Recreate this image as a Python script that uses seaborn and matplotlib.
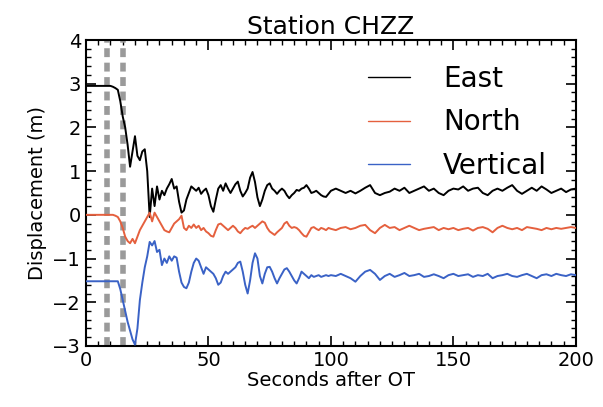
import numpy as np
import pandas as pd
import matplotlib
matplotlib.use("Agg")
import matplotlib.pyplot as plt
import seaborn as sns
from matplotlib.ticker import MultipleLocator

# time base: 1 s samples up to 99 s, then 2 s samples to 200 s
seconds = np.concatenate([np.arange(0, 100), np.arange(100, 201, 2)])

east = [
    2.95, 2.95, 2.95, 2.95, 2.95, 2.95, 2.95, 2.95, 2.95, 2.95,
    2.95, 2.93, 2.90, 2.86, 2.60, 2.25, 2.00, 1.60, 1.10, 1.45,
    1.80, 1.35, 1.25, 1.45, 1.50, 1.00, -0.05, 0.60, 0.20, 0.65,
    0.35, 0.55, 0.45, 0.60, 0.70, 0.82, 0.60, 0.65, 0.30, 0.05,
    0.10, 0.35, 0.50, 0.65, 0.60, 0.55, 0.62, 0.48, 0.55, 0.60,
    0.45, 0.20, 0.07, 0.35, 0.60, 0.68, 0.55, 0.72, 0.60, 0.50,
    0.60, 0.70, 0.76, 0.55, 0.42, 0.50, 0.60, 0.85, 0.98, 0.75,
    0.40, 0.20, 0.35, 0.55, 0.68, 0.72, 0.60, 0.55, 0.48, 0.55,
    0.60, 0.55, 0.45, 0.38, 0.45, 0.50, 0.57, 0.55, 0.60, 0.62,
    0.68, 0.60, 0.50, 0.52, 0.55, 0.50, 0.45, 0.42, 0.41, 0.48,
    0.55, 0.60, 0.55, 0.50, 0.55, 0.49, 0.55, 0.62, 0.68, 0.50,
    0.45, 0.50, 0.53, 0.60, 0.55, 0.62, 0.50, 0.55, 0.60, 0.65,
    0.55, 0.60, 0.50, 0.45, 0.55, 0.60, 0.58, 0.65, 0.55, 0.60,
    0.62, 0.50, 0.45, 0.55, 0.60, 0.55, 0.62, 0.68, 0.55, 0.48,
    0.55, 0.62, 0.55, 0.65, 0.58, 0.50, 0.55, 0.60, 0.52, 0.58,
    0.60,
]

north = [
    0.00, 0.00, 0.00, 0.00, 0.00, 0.00, 0.00, 0.00, 0.00, 0.00,
    0.00, 0.00, -0.02, -0.05, -0.15, -0.30, -0.50, -0.60, -0.65, -0.55,
    -0.65, -0.50, -0.35, -0.25, -0.15, -0.05, 0.05, -0.15, 0.05, -0.05,
    -0.15, -0.25, -0.35, -0.38, -0.40, -0.30, -0.20, -0.15, -0.10, -0.02,
    -0.30, -0.35, -0.25, -0.30, -0.22, -0.30, -0.25, -0.35, -0.30, -0.38,
    -0.42, -0.48, -0.50, -0.35, -0.22, -0.20, -0.25, -0.30, -0.35, -0.30,
    -0.25, -0.30, -0.38, -0.42, -0.35, -0.30, -0.32, -0.28, -0.25, -0.30,
    -0.25, -0.20, -0.15, -0.18, -0.30, -0.38, -0.42, -0.46, -0.40, -0.35,
    -0.30, -0.20, -0.16, -0.25, -0.30, -0.28, -0.30, -0.35, -0.42, -0.48,
    -0.50, -0.40, -0.30, -0.28, -0.32, -0.35, -0.30, -0.32, -0.35, -0.30,
    -0.32, -0.35, -0.30, -0.28, -0.33, -0.30, -0.25, -0.23, -0.35, -0.42,
    -0.30, -0.23, -0.30, -0.28, -0.35, -0.30, -0.25, -0.30, -0.35, -0.32,
    -0.30, -0.28, -0.35, -0.30, -0.33, -0.30, -0.35, -0.32, -0.30, -0.36,
    -0.30, -0.28, -0.32, -0.40, -0.30, -0.25, -0.30, -0.33, -0.30, -0.35,
    -0.28, -0.30, -0.32, -0.35, -0.30, -0.33, -0.30, -0.32, -0.30, -0.28,
    -0.30,
]

vertical = [
    -1.52, -1.52, -1.52, -1.52, -1.52, -1.52, -1.52, -1.52, -1.52, -1.52,
    -1.52, -1.52, -1.52, -1.52, -1.70, -1.95, -2.20, -2.45, -2.65, -2.85,
    -2.97, -2.60, -1.95, -1.55, -1.20, -0.95, -0.62, -0.70, -0.60, -0.85,
    -0.80, -1.15, -1.00, -1.10, -0.95, -1.05, -0.95, -0.98, -1.30, -1.55,
    -1.65, -1.68, -1.55, -1.30, -1.10, -1.00, -1.05, -1.20, -1.35, -1.20,
    -1.25, -1.30, -1.35, -1.45, -1.60, -1.55, -1.40, -1.30, -1.35, -1.30,
    -1.25, -1.20, -1.10, -1.07, -1.30, -1.60, -1.80, -1.50, -1.10, -0.88,
    -1.00, -1.40, -1.57, -1.35, -1.20, -1.19, -1.30, -1.45, -1.57, -1.45,
    -1.35, -1.25, -1.22, -1.30, -1.40, -1.50, -1.57, -1.45, -1.30, -1.35,
    -1.40, -1.45, -1.38, -1.42, -1.40, -1.38, -1.42, -1.40, -1.38, -1.40,
    -1.38, -1.40, -1.35, -1.40, -1.45, -1.53, -1.40, -1.30, -1.26, -1.35,
    -1.49, -1.40, -1.35, -1.42, -1.38, -1.33, -1.40, -1.38, -1.35, -1.42,
    -1.40, -1.36, -1.40, -1.45, -1.38, -1.35, -1.40, -1.38, -1.36, -1.42,
    -1.38, -1.40, -1.35, -1.45, -1.40, -1.38, -1.35, -1.40, -1.42, -1.38,
    -1.35, -1.40, -1.45, -1.38, -1.36, -1.40, -1.35, -1.38, -1.40, -1.36,
    -1.38,
]

components = ["East", "North", "Vertical"]
colors = {"East": "black", "North": "#e5603e", "Vertical": "#3a62c6"}
marker_times = [8.5, 15.0]

df = pd.DataFrame({
    "time": np.tile(seconds, 3),
    "disp": np.concatenate([east, north, vertical]),
    "comp": np.repeat(components, len(seconds)),
})

sns.set_style("ticks")
plt.rcParams["font.family"] = ["DejaVu Sans"]
plt.rcParams["xtick.direction"] = "in"
plt.rcParams["ytick.direction"] = "in"
for key in ["text.color", "axes.labelcolor", "axes.edgecolor",
            "xtick.color", "ytick.color"]:
    plt.rcParams[key] = "black"

fig = plt.figure(figsize=(6.03, 4.07), dpi=100)
ax = fig.add_axes([0.1426, 0.150, 0.8124, 0.7517])

for t in marker_times:
    ax.axvline(t, color="#9a9a9a", lw=4, ls=(0, (1.6, 1.0)), zorder=1)

sns.lineplot(data=df, x="time", y="disp", hue="comp", palette=colors,
             hue_order=components, lw=1.4, ax=ax, legend=False, zorder=3)

handles = [plt.Line2D([], [], color=colors[c], lw=1.0) for c in components]
ax.legend(handles, components, loc="upper left", bbox_to_anchor=(0.525, 1.0),
          frameon=False, fontsize=20, handlelength=1.5, handletextpad=1.2,
          labelspacing=0.55, borderaxespad=0.5)

ax.set_xlim(0, 200)
ax.set_ylim(-3, 4)
ax.xaxis.set_major_locator(MultipleLocator(50))
ax.xaxis.set_minor_locator(MultipleLocator(5))
ax.yaxis.set_major_locator(MultipleLocator(1))
ax.yaxis.set_minor_locator(MultipleLocator(0.2))
ax.tick_params(which="both", top=True, right=True, labelsize=14, width=1.2)
ax.tick_params(which="major", length=7)
ax.tick_params(which="minor", length=3.5, width=1.0)
for s in ax.spines.values():
    s.set_linewidth(1.5)

ax.set_title("Station CHZZ", fontsize=18, pad=4)
ax.set_xlabel("Seconds after OT", fontsize=14, labelpad=1)
ax.set_ylabel("Displacement (m)", fontsize=14, labelpad=4)

fig.savefig("out.png", dpi=100)
